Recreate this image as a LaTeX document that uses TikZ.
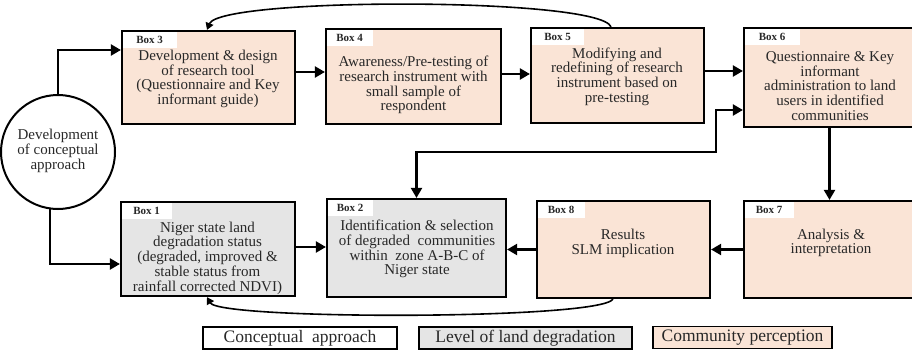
\documentclass[tikz,border=0pt]{standalone}
\usepackage{fontspec}
\setmainfont{Liberation Serif}
\newfontfamily\tnr{Liberation Serif}
\usetikzlibrary{arrows.meta,calc}
\definecolor{peach}{RGB}{250,228,214}
\definecolor{lgray}{RGB}{229,229,229}
\definecolor{txt}{RGB}{40,40,40}
\begin{document}
\begin{tikzpicture}[x=1pt,y=-1pt,
  mainbox/.style={draw=black,line width=2.2pt,rectangle,inner sep=0pt},
  peachbox/.style={mainbox,fill=peach},
  graybox/.style={mainbox,fill=lgray},
  boxlabel/.style={fill=white,inner sep=0pt,minimum height=16pt,anchor=north west,font=\tnr\fontsize{11}{12}\selectfont\bfseries,text=txt},
  bodytext/.style={align=center,inner sep=0pt,font=\tnr\fontsize{15}{14.7}\selectfont,text=txt},
  arr/.style={line width=2.2pt,-{Triangle[length=10pt,width=11pt]}},
  darr/.style={line width=2.2pt,{Triangle[length=10pt,width=11pt]}-{Triangle[length=10pt,width=11pt]}},
  carr/.style={line width=1.6pt,-{Triangle[length=7pt,width=8pt]}},
  legend/.style={draw=black,line width=1.6pt,inner sep=0pt,minimum height=22pt,font=\tnr\fontsize{17.5}{18}\selectfont,text=txt}]
\useasboundingbox (0,0) rectangle (912,350);
% circle
\node[draw=black,line width=2pt,circle,minimum size=114pt,inner sep=0pt] (c) at (58,152) {};
\node[bodytext] (ct) at (58,151) {Development\\of conceptual\\approach};
% top row
\node[peachbox,minimum width=173pt,minimum height=93pt] (b3) at (208.5,77.5) {};
\node[peachbox,minimum width=175pt,minimum height=95pt] (b4) at (413.5,76.5) {};
\node[peachbox,minimum width=173pt,minimum height=95pt] (b5) at (617.5,75.5) {};
\node[peachbox,minimum width=171pt,minimum height=99pt] (b6) at (829.5,77.5) {};
% bottom row
\node[graybox,minimum width=174pt,minimum height=94pt] (b1) at (208,249) {};
\node[graybox,minimum width=179pt,minimum height=98pt] (b2) at (416.5,248) {};
\node[peachbox,minimum width=173pt,minimum height=97pt] (b8) at (623.5,249.5) {};
\node[peachbox,minimum width=171pt,minimum height=97pt] (b7) at (829.5,249.5) {};
% labels
\node[boxlabel,minimum width=54pt] (l3) at ([shift={(1.5pt,-1.5pt)}]b3.north west) {Box 3};
\node[boxlabel,minimum width=46pt] (l4) at ([shift={(1.5pt,-1.5pt)}]b4.north west) {Box 4};
\node[boxlabel,minimum width=52pt] (l5) at ([shift={(1.5pt,-1.5pt)}]b5.north west) {Box 5};
\node[boxlabel,minimum width=55pt] (l6) at ([shift={(1.5pt,-1.5pt)}]b6.north west) {Box 6};
\node[boxlabel,minimum width=50pt] (l1) at ([shift={(1.5pt,-1.5pt)}]b1.north west) {Box 1};
\node[boxlabel,minimum width=45pt] (l2) at ([shift={(1.5pt,-1.5pt)}]b2.north west) {Box 2};
\node[boxlabel,minimum width=47pt] (l8) at ([shift={(1.5pt,-1.5pt)}]b8.north west) {Box 8};
\node[boxlabel,minimum width=49pt] (l7) at ([shift={(1.5pt,-1.5pt)}]b7.north west) {Box 7};
% texts
\node[bodytext] (t3) at (208,79) {Development \& design\\of research tool\\(Questionnaire and Key\\informant guide)};
\node[bodytext] (t4) at (413.5,85) {Awareness/Pre-testing of\\research instrument with\\small sample of\\respondent};
\node[bodytext] (t5) at (617,76.5) {Modifying and\\redefining of research\\instrument based on\\pre-testing};
\node[bodytext] (t6) at (830,86) {Questionnaire \& Key\\informant\\administration to land\\users in identified\\communities};
\node[bodytext] (t1) at (207.5,258) {Niger state land\\degradation status\\(degraded, improved \&\\stable status from\\rainfall corrected NDVI)};
\node[bodytext] (t2) at (417,249) {Identification \& selection\\of degraded\ \ communities\\within\ \ zone A-B-C of\\Niger state};
\node[bodytext] (t8) at (623,243.5) {Results\\SLM implication};
\node[bodytext] (t7) at (831,243) {Analysis \&\\interpretation};
% connectors
\draw[arr] (c.north) |- ([yshift=27.5pt]b3.west);
\draw[arr] (c.-98) |- ([yshift=-15pt]b1.west);
\draw[arr] ([yshift=5.5pt]b3.east) -- ([yshift=5.5pt]b3.east -| b4.west);
\draw[arr] ([yshift=2.5pt]b4.east) -- ([yshift=2.5pt]b4.east -| b5.west);
\draw[arr] ([yshift=4.5pt]b5.east) -- ([yshift=4.5pt]b5.east -| b6.west);
\draw[arr] (b6.south) -- (b7.north);
\draw[arr] (b7.west) -- (b8.east);
\draw[arr] (b8.west) -- (b8.west -| b2.east);
\draw[arr] ([yshift=2pt]b1.east) -- ([yshift=2pt]b1.east -| b2.west);
\draw[darr] ([yshift=-32.5pt]b6.west) -- ++(-27,0) -- ++(0,42) -| (b2.north);
\draw[carr] ([xshift=-6.5pt]b5.north) .. controls (600,-3) and (220,-3) .. ([xshift=-1.5pt]b3.north);
\draw[carr] ([xshift=-10.5pt]b8.south) .. controls (600,320) and (220,320) .. ([xshift=-1pt]b1.south);
% legend
\node[legend,minimum width=194pt] (g1) at (300,338) {Conceptual\ \ approach};
\node[legend,minimum width=213pt,fill=lgray] (g2) at (525.5,338) {Level of land degradation};
\node[legend,minimum width=179pt,fill=peach] (g3) at (742.5,337.5) {Community perception};
\end{tikzpicture}
\end{document}
